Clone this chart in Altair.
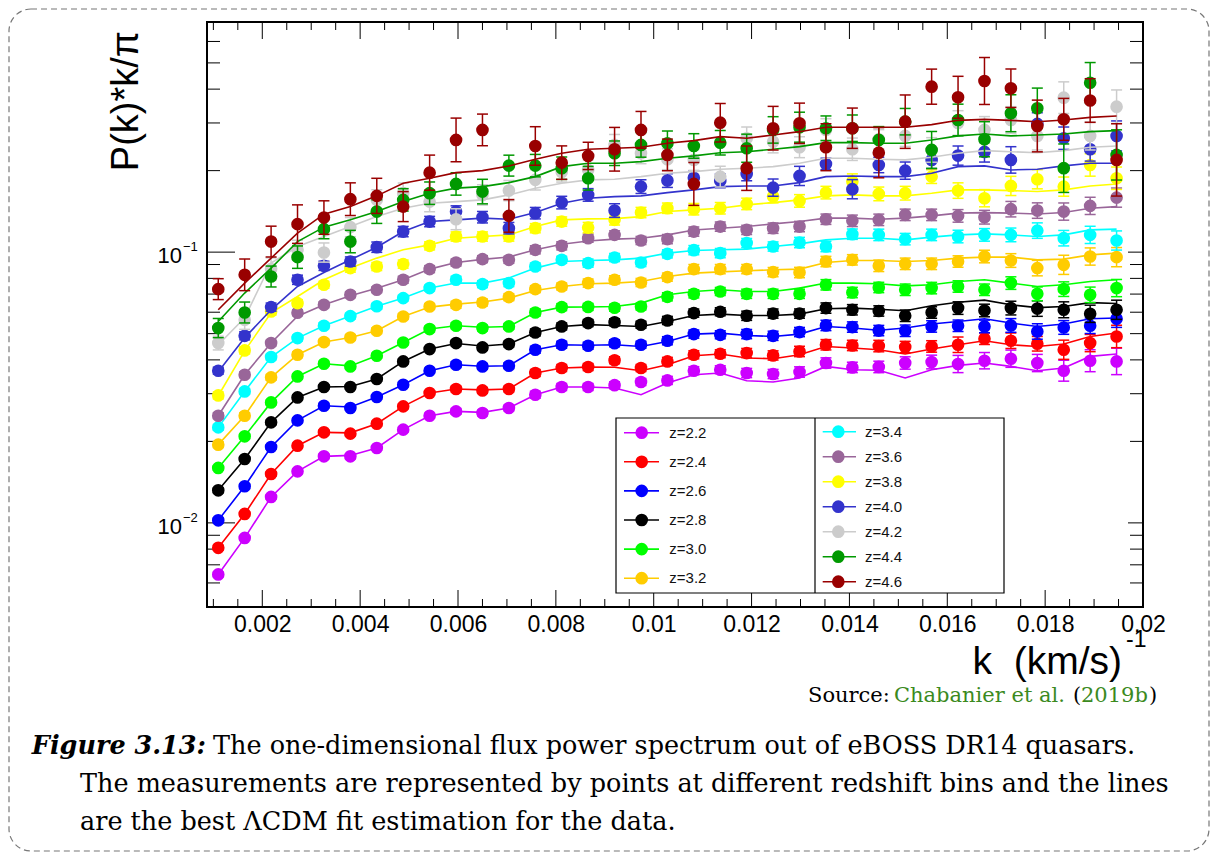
import altair as alt
import pandas as pd

# ---------------- data ----------------
k_vals = [0.00110, 0.00164, 0.00218, 0.00272, 0.00326, 0.00380, 0.00434, 0.00488, 0.00542, 0.00596,
          0.00650, 0.00704, 0.00758, 0.00812, 0.00866, 0.00920, 0.00974, 0.01028, 0.01082, 0.01136,
          0.01190, 0.01244, 0.01298, 0.01352, 0.01406, 0.01460, 0.01514, 0.01568, 0.01622, 0.01676,
          0.01730, 0.01784, 0.01838, 0.01892, 0.01946]

z_labels = ["2.2", "2.4", "2.6", "2.8", "3.0", "3.2", "3.4", "3.6", "3.8", "4.0", "4.2", "4.4", "4.6"]
series_colors = ["#cc00ff", "#ff0000", "#0000ff", "#000000", "#00ff00", "#ffcc00", "#00ffff",
                 "#996699", "#ffff00", "#3333cc", "#cccccc", "#009900", "#990000"]

p_z22 = [0.00645, 0.00880, 0.01247, 0.01550, 0.01761, 0.01761, 0.01891, 0.02210, 0.02488, 0.02581,
         0.02546, 0.02657, 0.02974, 0.03176, 0.03176, 0.03225, 0.03314, 0.03359, 0.03648, 0.03679,
         0.03577, 0.03547, 0.03608, 0.03895, 0.03752, 0.03767, 0.03895, 0.03928, 0.03862, 0.03972,
         0.04040, 0.03895, 0.03648, 0.03972, 0.03948]
fit_z22 = [0.00645, 0.00880, 0.01247, 0.01550, 0.01761, 0.01775, 0.01891, 0.02210, 0.02488, 0.02581,
           0.02560, 0.02657, 0.02974, 0.03176, 0.03176, 0.03150, 0.02974, 0.03285, 0.03525, 0.03577,
           0.03350, 0.03314, 0.03428, 0.03784, 0.03679, 0.03664, 0.03428, 0.03679, 0.03816, 0.03895,
           0.03784, 0.03648, 0.03733, 0.04120, 0.04205]
err_z22 = [0.02, 0.02, 0.02, 0.02, 0.02, 0.02, 0.02, 0.02, 0.02, 0.025,
           0.025, 0.025, 0.03, 0.03, 0.03, 0.03, 0.03, 0.035, 0.035, 0.035,
           0.04, 0.04, 0.045, 0.045, 0.045, 0.05, 0.054, 0.06, 0.076, 0.072,
           0.076, 0.076, 0.093, 0.098, 0.119]

p_z24 = [0.00809, 0.01079, 0.01516, 0.01928, 0.02160, 0.02136, 0.02325, 0.02694, 0.03018, 0.03122,
         0.03085, 0.03122, 0.03577, 0.03733, 0.03764, 0.03989, 0.03733, 0.03948, 0.04178, 0.04214,
         0.04239, 0.04154, 0.04297, 0.04549, 0.04522, 0.04499, 0.04461, 0.04484, 0.04549, 0.04787,
         0.04707, 0.04588, 0.04360, 0.04615, 0.04881]
fit_z24 = [0.00809, 0.01079, 0.01516, 0.01928, 0.02160, 0.02150, 0.02325, 0.02694, 0.03018, 0.03122,
           0.03100, 0.03122, 0.03577, 0.03733, 0.03760, 0.03758, 0.03648, 0.03839, 0.04143, 0.04205,
           0.04064, 0.04040, 0.04178, 0.04484, 0.04423, 0.04360, 0.04205, 0.04385, 0.04549, 0.04707,
           0.04549, 0.04484, 0.04576, 0.04881, 0.05024]
err_z24 = [0.02, 0.02, 0.02, 0.02, 0.02, 0.02, 0.02, 0.02, 0.02, 0.025,
           0.025, 0.025, 0.03, 0.03, 0.03, 0.03, 0.03, 0.035, 0.035, 0.035,
           0.04, 0.04, 0.045, 0.045, 0.045, 0.05, 0.05, 0.05, 0.068, 0.05,
           0.068, 0.064, 0.085, 0.076, 0.10]

p_z26 = [0.01022, 0.01365, 0.01907, 0.02391, 0.02709, 0.02657, 0.02916, 0.03238, 0.03648, 0.03839,
         0.03784, 0.03806, 0.04360, 0.04549, 0.04511, 0.04607, 0.04549, 0.04707, 0.04981, 0.04951,
         0.04981, 0.04909, 0.05068, 0.05361, 0.05288, 0.05132, 0.05124, 0.05316, 0.05346, 0.05316,
         0.05361, 0.05093, 0.05270, 0.05346, 0.05674]
fit_z26 = [0.01022, 0.01365, 0.01907, 0.02391, 0.02709, 0.02680, 0.02916, 0.03238, 0.03648, 0.03839,
           0.03790, 0.03806, 0.04360, 0.04549, 0.04530, 0.04549, 0.04484, 0.04678, 0.04981, 0.05024,
           0.04922, 0.04881, 0.04981, 0.05316, 0.05243, 0.05146, 0.05243, 0.05425, 0.05546, 0.05674,
           0.05471, 0.05316, 0.05425, 0.05674, 0.05708]
err_z26 = [0.02, 0.02, 0.02, 0.02, 0.02, 0.02, 0.02, 0.02, 0.02, 0.025,
           0.025, 0.025, 0.03, 0.03, 0.03, 0.03, 0.03, 0.035, 0.035, 0.035,
           0.04, 0.04, 0.04, 0.045, 0.045, 0.045, 0.05, 0.05, 0.05, 0.055,
           0.06, 0.068, 0.06, 0.068, 0.076]

p_z28 = [0.01319, 0.01722, 0.02351, 0.02907, 0.03176, 0.03176, 0.03400, 0.03948, 0.04385, 0.04615,
         0.04446, 0.04576, 0.05050, 0.05316, 0.05471, 0.05508, 0.05392, 0.05593, 0.05955, 0.06021,
         0.05820, 0.05930, 0.05930, 0.06214, 0.06125, 0.06063, 0.05820, 0.05985, 0.06214, 0.06088,
         0.06214, 0.06187, 0.06125, 0.05919, 0.06125]
fit_z28 = [0.01319, 0.01722, 0.02351, 0.02907, 0.03176, 0.03190, 0.03400, 0.03948, 0.04385, 0.04600,
           0.04500, 0.04576, 0.05050, 0.05316, 0.05400, 0.05361, 0.05316, 0.05546, 0.05836, 0.05905,
           0.05836, 0.05836, 0.05905, 0.06177, 0.06214, 0.06150, 0.06073, 0.06335, 0.06527, 0.06650,
           0.06389, 0.06240, 0.06299, 0.06510, 0.06465]
err_z28 = [0.02, 0.02, 0.02, 0.02, 0.02, 0.02, 0.02, 0.02, 0.02, 0.025,
           0.025, 0.025, 0.03, 0.03, 0.03, 0.03, 0.03, 0.035, 0.035, 0.035,
           0.04, 0.04, 0.04, 0.045, 0.045, 0.045, 0.05, 0.05, 0.055, 0.055,
           0.06, 0.068, 0.07, 0.076, 0.085]

p_z30 = [0.01596, 0.02088, 0.02786, 0.03475, 0.03872, 0.03784, 0.04143, 0.04638, 0.05199, 0.05346,
         0.05243, 0.05316, 0.05985, 0.06266, 0.06275, 0.06230, 0.06299, 0.06839, 0.07015, 0.07154,
         0.07015, 0.07015, 0.07015, 0.07575, 0.07093, 0.07404, 0.07261, 0.07366, 0.07467, 0.07261,
         0.07686, 0.07015, 0.07300, 0.06956, 0.07366]
fit_z30 = [0.01596, 0.02088, 0.02786, 0.03475, 0.03872, 0.03800, 0.04143, 0.04638, 0.05199, 0.05346,
           0.05280, 0.05316, 0.05985, 0.06266, 0.06275, 0.06299, 0.06481, 0.06956, 0.07154, 0.07261,
           0.07154, 0.07154, 0.07366, 0.07686, 0.07686, 0.07638, 0.07509, 0.07575, 0.07791, 0.07905,
           0.07686, 0.07467, 0.07575, 0.07791, 0.07905]
err_z30 = [0.02, 0.02, 0.02, 0.02, 0.02, 0.02, 0.02, 0.02, 0.025, 0.025,
           0.025, 0.025, 0.03, 0.03, 0.03, 0.03, 0.03, 0.035, 0.035, 0.035,
           0.04, 0.04, 0.04, 0.045, 0.045, 0.045, 0.05, 0.05, 0.05, 0.05,
           0.055, 0.06, 0.064, 0.068, 0.076]

p_z32 = [0.01945, 0.02488, 0.03447, 0.04178, 0.04654, 0.04840, 0.05124, 0.05785, 0.06299, 0.06389,
         0.06516, 0.06821, 0.07300, 0.07467, 0.07686, 0.07905, 0.07725, 0.08087, 0.08656, 0.08656,
         0.08656, 0.08437, 0.08408, 0.09232, 0.09367, 0.08901, 0.09054, 0.09054, 0.09232, 0.09634,
         0.09312, 0.08730, 0.08977, 0.09634, 0.09583]
fit_z32 = [0.01945, 0.02488, 0.03447, 0.04178, 0.04654, 0.04840, 0.05124, 0.05785, 0.06266, 0.06428,
           0.06547, 0.06764, 0.07215, 0.07467, 0.07638, 0.07686, 0.07791, 0.08128, 0.08366, 0.08457,
           0.08531, 0.08604, 0.08656, 0.09154, 0.09312, 0.09312, 0.09232, 0.09312, 0.09504, 0.09583,
           0.09583, 0.09367, 0.09423, 0.09772, 0.09915]
err_z32 = [0.025, 0.025, 0.025, 0.025, 0.025, 0.025, 0.025, 0.025, 0.025, 0.03,
           0.03, 0.03, 0.03, 0.03, 0.035, 0.035, 0.035, 0.035, 0.04, 0.04,
           0.04, 0.04, 0.045, 0.045, 0.045, 0.05, 0.05, 0.05, 0.05, 0.055,
           0.06, 0.068, 0.085, 0.076, 0.085]

p_z34 = [0.02253, 0.03059, 0.04098, 0.04815, 0.05346, 0.05804, 0.06310, 0.06764, 0.07366, 0.07905,
         0.07619, 0.07686, 0.08849, 0.09367, 0.09108, 0.09552, 0.09154, 0.09856, 0.1017, 0.09915,
         0.1080, 0.1049, 0.1085, 0.1049, 0.1165, 0.1158, 0.1117, 0.1158, 0.1142, 0.1158,
         0.1158, 0.1201, 0.1126, 0.1158, 0.1104]
fit_z34 = [0.02253, 0.03059, 0.04098, 0.04815, 0.05346, 0.05804, 0.06310, 0.06764, 0.07366, 0.07686,
           0.07686, 0.08019, 0.08730, 0.09232, 0.09312, 0.09367, 0.09504, 0.09915, 0.1014, 0.1020,
           0.1026, 0.1049, 0.1073, 0.1110, 0.1126, 0.1126, 0.1110, 0.1136, 0.1158, 0.1168,
           0.1158, 0.1142, 0.1158, 0.1208, 0.1216]
err_z34 = [0.025, 0.025, 0.025, 0.025, 0.025, 0.025, 0.025, 0.025, 0.025, 0.03,
           0.03, 0.03, 0.03, 0.03, 0.035, 0.035, 0.035, 0.035, 0.04, 0.04,
           0.04, 0.04, 0.045, 0.045, 0.045, 0.05, 0.05, 0.05, 0.055, 0.055,
           0.06, 0.068, 0.068, 0.076, 0.085]

p_z36 = [0.02488, 0.03525, 0.04615, 0.05970, 0.06389, 0.06956, 0.07261, 0.07905, 0.08656, 0.09154,
         0.09423, 0.09367, 0.1020, 0.1055, 0.1126, 0.1158, 0.1104, 0.1117, 0.1191, 0.1243,
         0.1208, 0.1226, 0.1243, 0.1323, 0.1305, 0.1316, 0.1373, 0.1373, 0.1361, 0.1346,
         0.1441, 0.1424, 0.1412, 0.1482, 0.1590]
fit_z36 = [0.02488, 0.03525, 0.04615, 0.05800, 0.06389, 0.06900, 0.07350, 0.07905, 0.08656, 0.09154,
           0.09400, 0.09600, 0.1020, 0.1070, 0.1100, 0.1117, 0.1126, 0.1158, 0.1208, 0.1226,
           0.1243, 0.1272, 0.1297, 0.1335, 0.1335, 0.1323, 0.1335, 0.1361, 0.1393, 0.1400,
           0.1393, 0.1384, 0.1400, 0.1453, 0.1473]
err_z36 = [0.025, 0.025, 0.025, 0.025, 0.025, 0.025, 0.025, 0.03, 0.03, 0.03,
           0.03, 0.03, 0.035, 0.035, 0.035, 0.035, 0.035, 0.04, 0.04, 0.04,
           0.04, 0.045, 0.045, 0.045, 0.05, 0.05, 0.05, 0.05, 0.055, 0.06,
           0.068, 0.068, 0.076, 0.076, 0.085]

p_z38 = [0.02956, 0.04334, 0.06036, 0.06481, 0.07575, 0.08730, 0.08849, 0.09031, 0.1055, 0.1142,
         0.1142, 0.1142, 0.1226, 0.1297, 0.1232, 0.1316, 0.1400, 0.1453, 0.1441, 0.1453,
         0.1507, 0.1604, 0.1546, 0.1659, 0.1822, 0.1641, 0.1651, 0.1901, 0.1688, 0.1582,
         0.1756, 0.1859, 0.1746, 0.2099, 0.1875]
fit_z38 = [0.02949, 0.04319, 0.05970, 0.06856, 0.07905, 0.08730, 0.09504, 0.1020, 0.1064, 0.1126,
           0.1142, 0.1158, 0.1243, 0.1316, 0.1327, 0.1330, 0.1353, 0.1412, 0.1433, 0.1453,
           0.1495, 0.1524, 0.1560, 0.1614, 0.1627, 0.1614, 0.1614, 0.1651, 0.1698, 0.1698,
           0.1688, 0.1674, 0.1698, 0.1756, 0.1786]
err_z38 = [0.03, 0.03, 0.03, 0.03, 0.03, 0.035, 0.035, 0.035, 0.035, 0.04,
           0.04, 0.04, 0.04, 0.04, 0.045, 0.045, 0.045, 0.045, 0.05, 0.05,
           0.05, 0.055, 0.055, 0.055, 0.068, 0.06, 0.06, 0.06, 0.068, 0.076,
           0.085, 0.085, 0.085, 0.10, 0.10]

p_z40 = [0.03648, 0.04909, 0.06266, 0.07905, 0.08901, 0.09232, 0.1043, 0.1191, 0.1297, 0.1412,
         0.1346, 0.1226, 0.1393, 0.1524, 0.1627, 0.1424, 0.1746, 0.1838, 0.1883, 0.1833,
         0.1945, 0.1731, 0.1912, 0.2117, 0.1708, 0.2099, 0.2000, 0.2191, 0.2273, 0.2345,
         0.2191, 0.2975, 0.2635, 0.2399, 0.2687]
fit_z40 = [0.03618, 0.04827, 0.06125, 0.07467, 0.08408, 0.09367, 0.1043, 0.1191, 0.1297, 0.1316,
           0.1335, 0.1323, 0.1400, 0.1516, 0.1582, 0.1604, 0.1614, 0.1659, 0.1698, 0.1746,
           0.1756, 0.1756, 0.1806, 0.1901, 0.1912, 0.1901, 0.1901, 0.1956, 0.2069, 0.2082,
           0.2012, 0.2024, 0.2082, 0.2130, 0.2130]
err_z40 = [0.03, 0.035, 0.035, 0.04, 0.04, 0.04, 0.045, 0.045, 0.045, 0.05,
           0.05, 0.05, 0.05, 0.055, 0.055, 0.06, 0.06, 0.06, 0.06, 0.06,
           0.06, 0.076, 0.085, 0.05, 0.085, 0.068, 0.076, 0.076, 0.085, 0.09,
           0.119, 0.10, 0.10, 0.106, 0.136]

p_z42 = [0.04615, 0.05627, 0.08656, 0.1020, 0.09966, 0.1237, 0.1560, 0.1651, 0.1537, 0.1323,
         0.1627, 0.1688, 0.1849, 0.1978, 0.2012, 0.2489, 0.2319, 0.2204, 0.2191, 0.1901,
         0.2635, 0.2559, 0.2441, 0.2828, 0.2399, 0.2612, 0.2687, 0.2385, 0.3000, 0.2828,
         0.3077, 0.2687, 0.3720, 0.2687, 0.3445]
fit_z42 = [0.04549, 0.05724, 0.09108, 0.1049, 0.1142, 0.1243, 0.1353, 0.1453, 0.1516, 0.1537,
           0.1560, 0.1627, 0.1723, 0.1797, 0.1849, 0.1859, 0.1901, 0.1956, 0.1983, 0.2024,
           0.2042, 0.2069, 0.2130, 0.2223, 0.2223, 0.2204, 0.2191, 0.2242, 0.2319, 0.2371,
           0.2350, 0.2330, 0.2371, 0.2441, 0.2467]
err_z42 = [0.06, 0.085, 0.10, 0.085, 0.085, 0.085, 0.09, 0.09, 0.09, 0.093,
           0.09, 0.09, 0.09, 0.09, 0.09, 0.093, 0.093, 0.093, 0.093, 0.093,
           0.10, 0.10, 0.093, 0.10, 0.10, 0.085, 0.093, 0.11, 0.11, 0.12,
           0.12, 0.127, 0.144, 0.127, 0.153]

p_z44 = [0.05243, 0.05985, 0.08128, 0.09583, 0.1216, 0.1094, 0.1412, 0.1560, 0.1651, 0.1786,
         0.1674, 0.2087, 0.2087, 0.2042, 0.1875, 0.2319, 0.2489, 0.2524, 0.2467, 0.2537,
         0.2420, 0.2828, 0.2894, 0.2869, 0.2869, 0.2597, 0.3033, 0.2385, 0.3077, 0.2612,
         0.3259, 0.3400, 0.2042, 0.4225, 0.2286]
fit_z44 = [0.05546, 0.07061, 0.08730, 0.1094, 0.1237, 0.1316, 0.1412, 0.1537, 0.1651, 0.1723,
           0.1746, 0.1806, 0.1901, 0.2069, 0.2130, 0.2130, 0.2159, 0.2223, 0.2267, 0.2330,
           0.2350, 0.2399, 0.2453, 0.2537, 0.2537, 0.2524, 0.2524, 0.2597, 0.2687, 0.2732,
           0.2687, 0.2709, 0.2732, 0.2786, 0.2810]
err_z44 = [0.085, 0.093, 0.093, 0.10, 0.085, 0.10, 0.106, 0.10, 0.10, 0.10,
           0.11, 0.093, 0.10, 0.10, 0.106, 0.11, 0.11, 0.11, 0.11, 0.11,
           0.127, 0.119, 0.136, 0.11, 0.119, 0.12, 0.119, 0.17, 0.144, 0.161,
           0.17, 0.187, 0.229, 0.187, 0.238]

p_z46 = [0.07300, 0.08245, 0.1094, 0.1269, 0.1342, 0.1569, 0.1614, 0.1473, 0.1966, 0.2597,
         0.2828, 0.1361, 0.2467, 0.2141, 0.2267, 0.2399, 0.2828, 0.2286, 0.1786, 0.3007,
         0.2042, 0.2869, 0.2992, 0.2441, 0.2869, 0.2330, 0.3033, 0.4085, 0.3733, 0.4287,
         0.4030, 0.2924, 0.3094, 0.3631, 0.2191]
fit_z46 = [0.06125, 0.07686, 0.09504, 0.1175, 0.1381, 0.1473, 0.1614, 0.1797, 0.1875, 0.1966,
           0.2000, 0.2082, 0.2204, 0.2319, 0.2399, 0.2420, 0.2441, 0.2524, 0.2582, 0.2671,
           0.2635, 0.2709, 0.2786, 0.2894, 0.2894, 0.2894, 0.2894, 0.2958, 0.3068, 0.3094,
           0.3068, 0.3033, 0.3077, 0.3147, 0.3185]
err_z46 = [0.093, 0.144, 0.14, 0.178, 0.153, 0.149, 0.161, 0.136, 0.161, 0.204,
           0.144, 0.149, 0.178, 0.153, 0.123, 0.204, 0.17, 0.144, 0.2, 0.178,
           0.208, 0.204, 0.187, 0.221, 0.187, 0.238, 0.255, 0.161, 0.195, 0.221,
           0.178, 0.246, 0.195, 0.204, 0.36]

x_tick_vals = [0.002, 0.004, 0.006, 0.008, 0.01, 0.012, 0.014, 0.016, 0.018, 0.02]
y_tick_vals = [0.01, 0.1]
y_tick_exps = ["\u22122", "\u22121"]

p_all = [p_z22, p_z24, p_z26, p_z28, p_z30, p_z32, p_z34, p_z36, p_z38, p_z40, p_z42, p_z44, p_z46]
fit_all = [fit_z22, fit_z24, fit_z26, fit_z28, fit_z30, fit_z32, fit_z34, fit_z36, fit_z38, fit_z40,
           fit_z42, fit_z44, fit_z46]
err_all = [err_z22, err_z24, err_z26, err_z28, err_z30, err_z32, err_z34, err_z36, err_z38, err_z40,
           err_z42, err_z44, err_z46]

# ---------------- build tables ----------------
rows = []
for zl, pl, fl, el in zip(z_labels, p_all, fit_all, err_all):
    for kk, pv, fv, ev in zip(k_vals, pl, fl, el):
        rows.append({"z": zl, "k": kk, "P": pv, "fit": fv, "lo": pv / (1 + ev), "hi": pv * (1 + ev)})
df = pd.DataFrame(rows)

W, H = 936, 585
FONT = "Liberation Sans"
SERIF = "DejaVu Serif"

x_scale = alt.Scale(domain=[0.00087, 0.02], nice=False, zero=False)
y_scale = alt.Scale(type="log", domain=[0.00489, 0.708], nice=False)
x_axis = alt.Axis(values=x_tick_vals, format=".3~f", ticks=False, tickSize=0, domain=False, grid=False,
                  labelFont=FONT, labelFontSize=23, labelColor="black", labelPadding=6,
                  labelFlush=False, labelOverlap=False, title=None)


def X(f):
    return alt.X(f"{f}:Q", scale=x_scale, axis=x_axis)


def Y(f):
    return alt.Y(f"{f}:Q", scale=y_scale, axis=None)


layers = []

# dashed rounded frame around the whole figure
one = pd.DataFrame({"a": [0]})
layers.append(alt.Chart(one).mark_rect(fill="white", fillOpacity=0, stroke="#777", strokeWidth=1.2,
                                       strokeDash=[6, 4], cornerRadius=22).encode(
    x=alt.value(-198), x2=alt.value(1002), y=alt.value(-13), y2=alt.value(829)))

# ---------------- axis ticks (ROOT style, inside the frame) ----------------
x_minor = [round(0.001 + 0.0005 * i, 5) for i in range(39)]
x_minor = [t for t in x_minor if all(abs(t - m) > 1e-9 for m in x_tick_vals)]
y_minor = [0.006, 0.007, 0.008, 0.009, 0.02, 0.03, 0.04, 0.05, 0.06, 0.07, 0.08, 0.09,
           0.2, 0.3, 0.4, 0.5, 0.6]
xmaj = alt.Chart(pd.DataFrame({"t": x_tick_vals}))
xmin = alt.Chart(pd.DataFrame({"t": x_minor}))
ymaj = alt.Chart(pd.DataFrame({"t": y_tick_vals}))
ymin = alt.Chart(pd.DataFrame({"t": y_minor}))
tk = dict(color="black", strokeWidth=1)
layers += [
    xmaj.mark_rule(**tk).encode(x=X("t"), y=alt.value(H), y2=alt.value(H - 17)),
    xmaj.mark_rule(**tk).encode(x=X("t"), y=alt.value(0), y2=alt.value(17)),
    xmin.mark_rule(**tk).encode(x=X("t"), y=alt.value(H), y2=alt.value(H - 8)),
    xmin.mark_rule(**tk).encode(x=X("t"), y=alt.value(0), y2=alt.value(8)),
    ymaj.mark_rule(**tk).encode(y=Y("t"), x=alt.value(0), x2=alt.value(28)),
    ymaj.mark_rule(**tk).encode(y=Y("t"), x=alt.value(W), x2=alt.value(W - 15)),
    ymin.mark_rule(**tk).encode(y=Y("t"), x=alt.value(0), x2=alt.value(13)),
    ymin.mark_rule(**tk).encode(y=Y("t"), x=alt.value(W), x2=alt.value(W - 13)),
]

# y tick labels 10^-2, 10^-1
ylab = pd.DataFrame({"t": y_tick_vals, "base": ["10"] * len(y_tick_vals), "exp": y_tick_exps})
layers.append(alt.Chart(ylab).mark_text(align="right", baseline="alphabetic", dy=11, fontSize=22,
                                        font=FONT, color="black").encode(
    y=Y("t"), x=alt.value(-25), text="base:N"))
layers.append(alt.Chart(ylab).mark_text(align="left", baseline="alphabetic", dy=-1, fontSize=13,
                                        font=FONT, color="black").encode(
    y=Y("t"), x=alt.value(-24), text="exp:N"))

# ---------------- data series ----------------
for zl, col in zip(z_labels, series_colors):
    sub = alt.Chart(df[df["z"] == zl])
    layers.append(sub.mark_line(color=col, strokeWidth=1.6).encode(x=X("k"), y=Y("fit")))
    layers.append(sub.mark_rule(color=col, strokeWidth=1.5).encode(x=X("k"), y=Y("lo"), y2=alt.Y2("hi:Q")))
    layers.append(sub.mark_tick(orient="horizontal", color=col, size=11, thickness=1.5, opacity=1).encode(
        x=X("k"), y=Y("hi")))
    layers.append(sub.mark_tick(orient="horizontal", color=col, size=11, thickness=1.5, opacity=1).encode(
        x=X("k"), y=Y("lo")))
    layers.append(sub.mark_circle(color=col, size=160, opacity=1).encode(x=X("k"), y=Y("P")))

# ---------------- legend box ----------------
layers.append(alt.Chart(one).mark_rect(fill="white", stroke="black", strokeWidth=1.2).encode(
    x=alt.value(409), x2=alt.value(797), y=alt.value(396), y2=alt.value(571)))
layers.append(alt.Chart(one).mark_rule(color="black", strokeWidth=1.2).encode(
    x=alt.value(608), y=alt.value(396), y2=alt.value(571)))

leg_rows = []
for i, (zl, col) in enumerate(zip(z_labels, series_colors)):
    if i < 6:
        ly, x1, x2, xd, xt = 410.7 + 29.1 * i, 417, 452, 434.7, 462.3
    else:
        j = i - 6
        ly, x1, x2, xd, xt = 409.7 + 25.0 * j, 615.7, 649, 631.3, 658
    leg_rows.append({"ly": ly, "x1": x1, "x2": x2, "xd": xd, "xt": xt, "c": col, "lab": f"z={zl}"})
leg = alt.Chart(pd.DataFrame(leg_rows))
LY = alt.Y("ly:Q", scale=None, axis=None)
layers.append(leg.mark_rule(strokeWidth=1.6).encode(
    x=alt.X("x1:Q", scale=None, axis=None), x2="x2:Q", y=LY, color=alt.Color("c:N", scale=None)))
layers.append(leg.mark_circle(size=160, opacity=1).encode(
    x=alt.X("xd:Q", scale=None, axis=None), y=LY, color=alt.Color("c:N", scale=None)))
layers.append(leg.mark_text(align="left", baseline="middle", fontSize=15, font=FONT, color="#111").encode(
    x=alt.X("xt:Q", scale=None, axis=None), y=LY, text="lab:N"))


# ---------------- titles, source, caption ----------------
def label(text, x, y, size, font=FONT, align="left", baseline="alphabetic", color="black", **kw):
    return alt.Chart(pd.DataFrame({"t": [text]})).mark_text(
        align=align, baseline=baseline, fontSize=size, font=font, color=color, **kw).encode(
        x=alt.value(x), y=alt.value(y), text="t:N")


layers += [
    label("P(k)*k/\u03c0", -80, 9, 38, align="right", baseline="middle", angle=270),
    label("k\u00a0\u00a0(km/s)", 915, 652, 39, align="right"),
    label("-1", 919, 625, 23),
    label("Source:", 601, 680, 21, font=SERIF),
    label("Chabanier et al.", 687, 680, 21, font=SERIF, color="#3b8a1e"),
    label("(", 866, 680, 21, font=SERIF),
    label("2019b", 874, 680, 21, font=SERIF, color="#3b8a1e"),
    label(")", 942, 680, 21, font=SERIF),
    label("Figure 3.13:", -1, 732, 25.5, font=SERIF, align="right", fontStyle="italic", fontWeight="bold"),
    label("The one-dimensional flux power spectrum out of eBOSS DR14 quasars.", 6, 732, 25.5, font=SERIF),
    label("The measurements are represented by points at different redshift bins and the lines",
          -127, 770, 25.5, font=SERIF),
    label("are the best \u039bCDM fit estimation for the data.", -127, 808, 25.5, font=SERIF),
]

chart = alt.layer(*layers).properties(
    width=W, height=H,
    padding={"left": 199, "top": 14, "right": 67, "bottom": 245},
    autosize=alt.AutoSizeParams(type="none"),
).configure_view(stroke="black", strokeWidth=2)

chart.save("out.html", embed_options={"renderer": "svg", "actions": False})
